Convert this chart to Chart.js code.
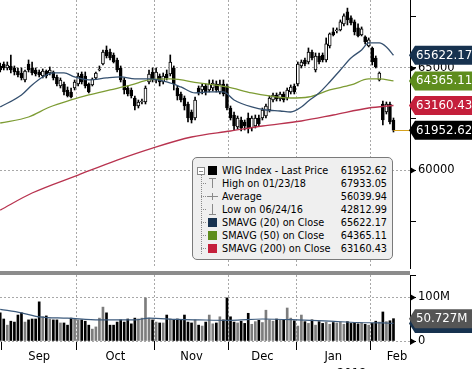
<!DOCTYPE html>
<html>
<head>
<meta charset="utf-8">
<script src="https://cdn.jsdelivr.net/npm/chart.js@4.4.1/dist/chart.umd.min.js"></script>
<style>
  html, body { margin: 0; padding: 0; background: #fff; }
  body { width: 472px; height: 369px; position: relative; overflow: hidden; font-family: "DejaVu Sans", sans-serif; }
  canvas { position: absolute; left: 0; }
  #sep { position: absolute; left: 0; top: 271px; width: 410px; height: 4px; background: #8c8c8c; }
  #legend { position: absolute; left: 192px; top: 157px; width: 199px; height: 101px; background: #efefef; border: 1px solid #7a7a7a; border-radius: 5px; }
  .lt { position: absolute; left: 222px; height: 13px; line-height: 13px; font-size: 9.7px; white-space: nowrap; color: #000; }
  .lv { position: absolute; left: 320px; width: 67px; text-align: right; height: 13px; line-height: 13px; font-size: 9.7px; color: #000; }
  .sw { position: absolute; left: 208px; width: 9px; height: 9px; }
  .gl { position: absolute; background: #8a8a8a; }
  #yr { position: absolute; left: 337px; top: 366px; font-size: 11.5px; }
</style>
</head>
<body>
<canvas id="price" width="472" height="270" style="top:0"></canvas>
<canvas id="vol" width="472" height="99" style="top:270px"></canvas>
<div id="sep"></div>
<div id="legend"></div>
<div id="legendRows"></div>
<div id="yr">2018</div>
<script>
// trading days: index 0 = last day of Aug 2017, index 111 = last day shown (Feb 2018)
const monthLabels = ['Sep', 'Oct', 'Nov', 'Dec', 'Jan', 'Feb'];
const monthStarts = [0.5, 21.5, 43.5, 64.5, 83.5, 104.5];

const openP = [65098,65196,65000,65098,65000,64853,64755,64412,65196,65000,
  64902,64804,64608,64853,64755,64804,64559,64118,64216,63922,
  63824,64020,64216,64706,64608,64216,64167,64510,64902,65196,
  65882,65784,65637,65392,65000,64412,64020,63922,63529,63137,
  63333,63333,64314,64804,64412,64608,64314,64706,64706,65000,
  64020,63726,63529,63235,62843,62549,64020,63922,64118,63922,
  64020,64216,63824,64216,64118,63039,62696,62108,62451,62353,
  62549,62059,62157,62549,62549,62647,62941,63431,63677,63480,
  63726,63529,63824,64118,64216,65098,65392,65294,65784,64902,
  65588,65637,65392,66078,66765,66814,66863,67157,67745,67451,
  67255,66961,66618,66520,66078,65980,65490,64412,63235,62843,
  63235,62451];
const highP = [65245,65294,65294,65637,65098,65000,65000,64902,65392,65294,
  65000,64902,64951,64902,65049,64853,64657,64510,64314,64069,
  64020,64412,64755,64804,64804,64265,64510,64804,65098,65882,
  66078,65931,65735,65490,65098,64510,64118,64020,63628,63431,
  63480,64118,64902,65000,65000,64706,64755,64902,65637,65098,
  64118,63824,63628,63333,62941,63579,64118,64216,64216,64412,
  64412,64363,64412,64412,64216,63137,62843,62647,62598,62451,
  62794,62647,62696,62696,63039,63235,63628,63775,63775,63824,
  63824,64020,64167,64216,65294,65392,65490,65980,65882,65735,
  65735,65735,66471,66716,66961,66961,67353,67647,67933.05,67549,
  67353,67157,67010,66569,66471,66029,65588,64804,63382,63333,
  63333,62549];
const lowP = [64804,64902,64902,64755,64657,64559,64412,64314,64804,64657,
  64608,64559,64510,64510,64657,64412,64118,64020,63677,63579,
  63529,63922,64118,64216,64020,63775,64118,64461,64853,65147,
  65490,65392,65245,64804,64314,63726,63628,63529,62941,63039,
  63235,63235,64216,64314,64265,64118,64216,64412,64608,63922,
  63431,63333,62941,62353,62304,62451,63677,63726,63677,63824,
  63873,63824,63726,63628,62941,62451,61961,62010,61912,61961,
  61814,61912,62059,62157,62451,62549,62843,63333,63382,63382,
  63333,63431,63726,63726,64118,65000,65098,65196,65392,64804,
  65196,65294,65294,65980,66569,66716,66814,67059,67108,67108,
  66618,66520,66569,66177,66029,65147,65000,64363,62206,62745,
  62255,61863];
const closeP = [64902,65000,65147,64902,64804,64657,64510,64853,64902,64755,
  64706,64657,64853,64608,64902,64510,64216,64412,63824,63628,
  63579,64314,64608,64314,64118,63824,64461,64755,64951,65784,
  65588,65490,65294,64902,64412,63922,63726,63628,63137,63333,
  63382,64020,64706,64412,64804,64314,64608,64510,65294,64216,
  63628,63431,63137,62549,62451,63431,63775,64118,63824,64216,
  64265,63922,64216,63726,63039,62549,62157,62549,62059,62157,
  62059,62549,62549,62255,62941,63137,63529,63677,63480,63726,
  63431,63922,64069,63824,65196,65294,65196,65784,65490,65588,
  65294,65392,66177,66667,66618,66863,67255,67549,67353,67206,
  66765,66569,66912,66275,66373,65294,65049,64755,62451,63235,
  62353,61952.62];

// volume in millions
const volume = [64,50,36,45,43,59,64,43,48,50,
  50,89,55,57,50,48,48,41,41,36,
  52,50,48,48,45,36,27,32,52,77,
  64,36,36,43,48,43,50,39,52,50,
  52,98,52,48,43,41,41,59,50,48,
  50,48,59,43,41,48,36,34,43,59,
  39,41,55,48,98,55,43,41,45,40,
  63,38,44,47,42,70,48,45,50,47,
  49,75,52,46,34,59,44,40,48,36,
  44,40,43,38,42,41,43,38,44,40,
  42,39,41,38,36,40,45,43,66,44,
  46,50.727];
const volAvgDays = [0,6,11,19,28,38,42,50,56,65,74,84,93,101,108,111];
const volAvg = [72,64,55,52,48,48,52,49,48,47,50,48,45,42,41,40];

// moving averages, read at the marked days
const sma20Days = [0,6,9,12,15,18,21,25,30,34,38,42,47,51,55,59,63,66,71,75,79,82,85,87,90,93,96,99,102,104,107,109,111];
const sma20 = [63088,63677,64167,64559,64755,64755,64559,64412,64510,64559,64461,64461,64314,64069,63775,63824,63824,63431,63088,62941,62892,62843,63088,63382,63775,64314,64902,65490,65882,66226,66226,66029,65622.17];
const sma50Days = [0,8,14,20,25,31,37,42,48,56,64,71,76,82,87,93,99,104,107,111];
const sma50 = [62304,62598,63088,63431,63677,63922,64167,64412,64461,64265,64069,63775,63628,63529,63578,63922,64167,64461,64461,64365.11];
const sma200Days = [0,9,22,33,43,54,65,74,85,94,104,111];
const sma200 = [58039,58873,59755,60490,61078,61618,61912,62157,62402,62696,63039,63160.43];

const priceTicks = [57500, 60000, 62500, 65000, 67500];
const volTicks = [0, 50, 100, 150];

const legendNames = ['WIG Index - Last Price', 'High on 01/23/18', 'Average', 'Low on 06/24/16', 'SMAVG (20) on Close', 'SMAVG (50) on Close', 'SMAVG (200) on Close'];
const legendStats = [null, 67933.05, 56039.94, 42812.99, null, null, null];

const C20 = '#35506f', C50 = '#7d9c34', C200 = '#b8334f';
const TAG20 = '#17324f', TAG50 = '#5e8d1d', TAG200 = '#c41f3b';
const FONT = 'DejaVu Sans';
const xMin = -0.06, xMax = 115.66;

const days = closeP.map((_, i) => i);
const up = days.map(i => closeP[i] >= openP[i]);
const last = closeP.length - 1;

function drawTag(ctx, left, y, color, text) {
  const h = 19;
  ctx.beginPath();
  ctx.moveTo(left - 1, y);
  ctx.lineTo(left + 5, y - h / 2);
  ctx.lineTo(472, y - h / 2);
  ctx.lineTo(472, y + h / 2);
  ctx.lineTo(left + 5, y + h / 2);
  ctx.closePath();
  ctx.fillStyle = color;
  ctx.fill();
  ctx.fillStyle = '#fff';
  ctx.font = '11.8px "' + FONT + '"';
  ctx.textBaseline = 'middle';
  ctx.textAlign = 'left';
  ctx.fillText(text, left + 6, y + 0.5);
}

const decor = {
  id: 'decor',
  afterDraw(chart, args, opts) {
    const ctx = chart.ctx;
    const ys = chart.scales.y, xs = chart.scales.x;
    const right = chart.chartArea.right;
    ctx.save();
    opts.pointers.forEach(v => {
      const py = Math.round(ys.getPixelForValue(v)) + 0.5;
      ctx.beginPath();
      ctx.moveTo(right, py - 3.5);
      ctx.lineTo(right + 6, py);
      ctx.lineTo(right, py + 3.5);
      ctx.closePath();
      ctx.fillStyle = '#000';
      ctx.fill();
    });
    if (opts.lastLine) {
      const py = Math.round(ys.getPixelForValue(opts.lastLine)) + 0.5;
      ctx.strokeStyle = '#d6a21e';
      ctx.lineWidth = 1;
      ctx.beginPath();
      ctx.moveTo(xs.getPixelForValue(last), py);
      ctx.lineTo(right, py);
      ctx.stroke();
    }
    opts.tags.forEach(t => drawTag(ctx, right, ys.getPixelForValue(t.value), t.color, t.text));
    ctx.restore();
  }
};

function fixRight(s) { s.width = 62; s.paddingTop = 0; s.paddingBottom = 0; }
function fixX(h) { return s => { s.height = h; s.paddingLeft = 0; s.paddingRight = 0; }; }
const gridGray = '#a8a8a8';

new Chart(document.getElementById('price'), {
  type: 'bar',
  data: {
    datasets: [
      { type: 'line', data: sma20Days.map((d, k) => ({ x: d, y: sma20[k] })), borderColor: C20, borderWidth: 1.3, pointRadius: 0, cubicInterpolationMode: 'monotone', order: 0 },
      { type: 'line', data: sma50Days.map((d, k) => ({ x: d, y: sma50[k] })), borderColor: C50, borderWidth: 1.3, pointRadius: 0, cubicInterpolationMode: 'monotone', order: 0 },
      { type: 'line', data: sma200Days.map((d, k) => ({ x: d, y: sma200[k] })), borderColor: C200, borderWidth: 1.3, pointRadius: 0, cubicInterpolationMode: 'monotone', order: 0 },
      { data: days.map(i => ({ x: i, y: [openP[i], closeP[i]] })), backgroundColor: up.map(u => u ? '#fff' : '#000'), borderColor: '#000', borderWidth: 1, borderSkipped: false, barThickness: 3, grouped: false, order: 1 },
      { data: days.map(i => ({ x: i, y: [lowP[i], highP[i]] })), backgroundColor: '#000', borderWidth: 0, barThickness: 1, grouped: false, order: 2 }
    ]
  },
  options: {
    responsive: false, animation: false, devicePixelRatio: 1,
    layout: { padding: { left: 0, right: 0, top: 0, bottom: 2 } },
    plugins: {
      legend: { display: false }, tooltip: { enabled: false },
      decor: {
        pointers: [60000, 65000],
        lastLine: closeP[last],
        tags: [
          { value: sma20[sma20.length - 1], color: TAG20, text: sma20[sma20.length - 1].toFixed(2) },
          { value: sma50[sma50.length - 1], color: TAG50, text: sma50[sma50.length - 1].toFixed(2) },
          { value: sma200[sma200.length - 1], color: TAG200, text: sma200[sma200.length - 1].toFixed(2) },
          { value: closeP[last], color: '#000', text: closeP[last].toFixed(2) }
        ]
      }
    },
    scales: {
      x: {
        type: 'linear', min: xMin, max: xMax, offset: false,
        afterBuildTicks: s => { s.ticks = monthStarts.slice(1).map(v => ({ value: v })); },
        afterFit: fixX(0),
        ticks: { display: false },
        grid: { color: gridGray, drawTicks: false, offset: false },
        border: { display: false, dash: [2, 2] }
      },
      y: {
        position: 'right', min: 55200, max: 68330, beginAtZero: false,
        afterBuildTicks: s => { s.ticks = priceTicks.map(v => ({ value: v })); },
        afterFit: fixRight,
        ticks: { callback: v => v % 5000 === 0 ? String(v) : '', font: { family: FONT, size: 11.5 }, color: '#000', padding: 2 },
        grid: { color: c => (c.tick && c.tick.value % 5000 === 0) ? gridGray : 'rgba(0,0,0,0)', tickColor: '#000', tickLength: 6 },
        border: { display: true, color: '#000', width: 1, dash: [2, 2] }
      }
    }
  },
  plugins: [decor]
});

new Chart(document.getElementById('vol'), {
  type: 'bar',
  data: {
    datasets: [
      { type: 'line', data: volAvgDays.map((d, k) => ({ x: d, y: volAvg[k] })), borderColor: '#3c5a7c', borderWidth: 1.2, pointRadius: 0, cubicInterpolationMode: 'monotone', order: 0 },
      { data: days.map(i => ({ x: i, y: volume[i] })), backgroundColor: up.map(u => u ? '#7d7d7d' : '#000'), borderWidth: 0, barThickness: 2, grouped: false, order: 1 }
    ]
  },
  options: {
    responsive: false, animation: false, devicePixelRatio: 1,
    layout: { padding: { left: 0, right: 0, top: 5, bottom: 0 } },
    plugins: {
      legend: { display: false }, tooltip: { enabled: false },
      decor: {
        pointers: [0, 100],
        lastLine: null,
        tags: [
          { value: volAvg[volAvg.length - 1], color: TAG20, text: volAvg[volAvg.length - 1].toFixed(3) + 'M' },
          { value: volume[last], color: '#555', text: volume[last].toFixed(3) + 'M' }
        ]
      }
    },
    scales: {
      x: {
        type: 'linear', min: xMin, max: xMax, offset: false, weight: 0,
        afterBuildTicks: s => { s.ticks = monthStarts.map(v => ({ value: v })); },
        afterFit: fixX(9),
        ticks: { display: false },
        grid: { color: c => c.index === 0 ? 'rgba(0,0,0,0)' : gridGray, tickColor: '#000', tickLength: 9, offset: false },
        border: { display: false, dash: [2, 2] }
      },
      x2: {
        type: 'linear', position: 'bottom', min: xMin, max: xMax, offset: false, weight: 1,
        afterBuildTicks: s => {
          s.ticks = monthStarts.map((v, k) => ({ value: k < monthStarts.length - 1 ? (v + monthStarts[k + 1]) / 2 : v + 7.5 }));
        },
        afterFit: fixX(19),
        ticks: { callback: (v, k) => monthLabels[k], autoSkip: false, maxRotation: 0, padding: 0, font: { family: FONT, size: 11.5 }, color: '#000' },
        grid: { display: false, drawTicks: false },
        border: { display: false }
      },
      y: {
        position: 'right', min: 0, max: 150, beginAtZero: false,
        afterBuildTicks: s => { s.ticks = volTicks.map(v => ({ value: v })); },
        afterFit: fixRight,
        ticks: { callback: v => v === 0 ? '0' : (v === 100 ? '100M' : ''), font: { family: FONT, size: 11.5 }, color: '#000', padding: 2 },
        grid: { color: c => (c.tick && (c.tick.value === 0 || c.tick.value === 100)) ? gridGray : 'rgba(0,0,0,0)', tickColor: '#000', tickLength: 6 },
        border: { display: true, color: '#000', width: 1, dash: [2, 2] }
      }
    }
  },
  plugins: [decor]
});

// legend box rows
const rows = document.getElementById('legendRows');
const legendValues = legendStats.slice();
legendValues[0] = closeP[last];
legendValues[4] = sma20[sma20.length - 1];
legendValues[5] = sma50[sma50.length - 1];
legendValues[6] = sma200[sma200.length - 1];
const swatch = [null, null, null, null, TAG20, TAG50, TAG200];
let html = '';
legendNames.forEach((name, k) => {
  const top = 164 + 13 * k;
  const cy = top + 6;
  html += '<div class="lt" style="top:' + top + 'px">' + name + '</div>';
  html += '<div class="lv" style="top:' + top + 'px">' + legendValues[k].toFixed(2) + '</div>';
  if (k === 0) {
    html += '<div style="position:absolute;left:197px;top:' + (cy - 3) + 'px;width:6px;height:6px;border:1px solid #8a8a8a;background:#fff"></div>';
    html += '<div class="gl" style="left:199px;top:' + (cy + 1) + 'px;width:4px;height:1px"></div>';
    html += '<div class="sw" style="top:' + (cy - 4) + 'px;background:#000"></div>';
  } else {
    html += '<div style="position:absolute;left:201px;top:' + cy + 'px;width:5px;border-top:1px dotted #8a8a8a"></div>';
    if (swatch[k]) html += '<div class="sw" style="top:' + (cy - 4) + 'px;background:' + swatch[k] + '"></div>';
  }
  if (k === 1) {
    html += '<div class="gl" style="left:209px;top:' + (cy - 5) + 'px;width:7px;height:1px"></div>';
    html += '<div class="gl" style="left:212px;top:' + (cy - 5) + 'px;width:1px;height:10px"></div>';
  }
  if (k === 2) {
    html += '<div class="gl" style="left:207px;top:' + cy + 'px;width:11px;height:1px"></div>';
    html += '<div class="gl" style="left:212px;top:' + (cy - 3) + 'px;width:1px;height:7px"></div>';
  }
  if (k === 3) {
    html += '<div class="gl" style="left:212px;top:' + (cy - 5) + 'px;width:1px;height:10px"></div>';
    html += '<div class="gl" style="left:209px;top:' + (cy + 5) + 'px;width:7px;height:1px"></div>';
  }
});
html += '<div style="position:absolute;left:201px;top:175px;height:' + (13 * 6 + 1) + 'px;border-left:1px dotted #8a8a8a"></div>';
rows.innerHTML = html;
</script>
</body>
</html>
